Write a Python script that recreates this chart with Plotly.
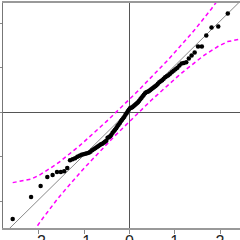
import plotly.graph_objects as go
from statistics import NormalDist

# Sorted sample values (ordered residuals)
sample_values = [
    -2.404, -1.910, -1.663, -1.461, -1.416, -1.348, -1.348, -1.330, -1.258, -1.079,
    -1.056, -1.034, -1.000, -0.978, -0.955, -0.944, -0.933, -0.921, -0.910, -0.888,
    -0.854, -0.831, -0.809, -0.787, -0.764, -0.742, -0.719, -0.708, -0.685, -0.663,
    -0.640, -0.573, -0.562, -0.539, -0.506, -0.461, -0.427, -0.393, -0.360, -0.315,
    -0.281, -0.247, -0.202, -0.169, -0.135, -0.101, -0.056, -0.022, 0.022, 0.056,
    0.090, 0.101, 0.112, 0.135, 0.157, 0.180, 0.202, 0.225, 0.258, 0.292,
    0.326, 0.360, 0.393, 0.427, 0.449, 0.461, 0.472, 0.494, 0.517, 0.539,
    0.562, 0.584, 0.607, 0.640, 0.674, 0.697, 0.719, 0.753, 0.787, 0.809,
    0.831, 0.865, 0.899, 0.933, 0.966, 1.000, 1.056, 1.101, 1.112, 1.124,
    1.213, 1.281, 1.348, 1.483, 1.483, 1.730, 1.910, 1.933, 2.225, 2.290,
]

# Reference line (robust fit) and envelope level
line_intercept = 0.043
line_slope = 1.005
envelope_level = 0.95

x_tick_values = [-2, -1, 0, 1, 2]
x_tick_labels = ["-2", "-1", "0", "1", "2"]
y_tick_values = [-2, -1, 0, 1, 2]

nd = NormalDist()
n = len(sample_values)
probs = [(i + 0.5) / n for i in range(n)]
theo = [nd.inv_cdf(p) for p in probs]
zz = nd.inv_cdf(1 - (1 - envelope_level) / 2)
fit = [line_intercept + line_slope * z for z in theo]
se = [(line_slope / nd.pdf(z)) * (p * (1 - p) / n) ** 0.5 for z, p in zip(theo, probs)]
upper = [f + zz * s for f, s in zip(fit, se)]
lower = [f - zz * s for f, s in zip(fit, se)]

x_range = [-2.79, 2.44]
y_range = [-2.607, 2.461]

fig = go.Figure()
fig.add_trace(go.Scatter(
    x=[x_range[0] - 1, x_range[1] + 1],
    y=[line_intercept + line_slope * (x_range[0] - 1), line_intercept + line_slope * (x_range[1] + 1)],
    mode="lines", line=dict(color="#888888", width=1), hoverinfo="skip"))
fig.add_trace(go.Scatter(x=theo, y=upper, mode="lines",
                         line=dict(color="#FF00FF", width=1.5, dash="4px,3px")))
fig.add_trace(go.Scatter(x=theo, y=lower, mode="lines",
                         line=dict(color="#FF00FF", width=1.5, dash="4px,3px")))
fig.add_trace(go.Scatter(x=theo, y=sample_values, mode="markers",
                         marker=dict(color="black", size=4.5, line=dict(width=0))))

fig.update_layout(
    width=240, height=240,
    margin=dict(l=3, r=0, t=2.5, b=12, autoexpand=False),
    paper_bgcolor="white", plot_bgcolor="white",
    showlegend=False,
    font=dict(family="Liberation Sans, Arial, sans-serif", color="black"),
)
fig.update_xaxes(
    range=x_range, tickvals=x_tick_values, ticktext=x_tick_labels,
    ticks="outside", ticklen=4, tickcolor="#888888", tickwidth=1,
    showline=True, linecolor="#999999", linewidth=1.5, mirror=True,
    showgrid=False, zeroline=True, zerolinecolor="#555555", zerolinewidth=1,
    tickfont=dict(size=16, color="#222222"), ticklabelstandoff=-6,
    automargin=False,
)
fig.update_yaxes(
    range=y_range, tickvals=y_tick_values,
    ticks="outside", ticklen=3, tickcolor="#888888", tickwidth=1,
    showline=True, linecolor="#777777", linewidth=1,
    showgrid=False, zeroline=True, zerolinecolor="#555555", zerolinewidth=1,
    showticklabels=False, automargin=False,
)

fig.write_html("out.html", config={"displayModeBar": False},
               post_script="document.body.style.margin='0';")
